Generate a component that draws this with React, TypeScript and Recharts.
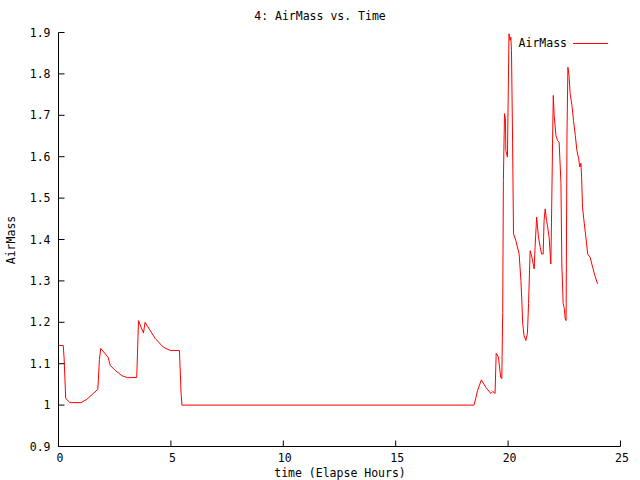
import { LineChart, Line, XAxis, YAxis } from 'recharts';

// elapsed hours and the air mass read at each time
const times = [
  0, 0.21, 0.25, 0.32, 0.51, 1.0, 1.26, 1.75, 1.82, 1.88, 2.21, 2.3, 2.52, 2.82, 3.08, 3.48,
  3.56, 3.78, 3.85, 4.3, 4.66, 4.97, 5.38, 5.45, 5.49, 18.48, 18.56, 18.64, 18.81, 19.01,
  19.23, 19.32, 19.42, 19.47, 19.57, 19.67, 19.72, 19.76, 19.79, 19.84, 19.88, 19.9, 19.97,
  20.04, 20.09, 20.12, 20.15, 20.2, 20.24, 20.34, 20.49, 20.57, 20.61, 20.65, 20.71, 20.79,
  20.86, 20.91, 20.98, 21.06, 21.16, 21.2, 21.27, 21.31, 21.35, 21.43, 21.49, 21.56, 21.6,
  21.65, 21.71, 21.76, 21.83, 21.9, 21.93, 21.98, 22.01, 22.05, 22.13, 22.2, 22.27, 22.35,
  22.39, 22.45, 22.5, 22.54, 22.58, 22.62, 22.66, 22.71, 22.76, 22.84, 22.91, 22.99, 23.06,
  23.14, 23.19, 23.24, 23.27, 23.31, 23.39, 23.46, 23.54, 23.65, 23.76, 23.86, 23.98,
];
const airMass = [
  1.144, 1.144, 1.113, 1.016, 1.006, 1.006, 1.014, 1.038, 1.11, 1.137, 1.115, 1.096, 1.084,
  1.071, 1.066, 1.067, 1.204, 1.174, 1.2, 1.161, 1.14, 1.132, 1.132, 1.031, 1.0, 1.0, 1.016,
  1.035, 1.061, 1.043, 1.028, 1.033, 1.028, 1.125, 1.116, 1.067, 1.064, 1.224, 1.543, 1.704,
  1.692, 1.615, 1.599, 1.897, 1.881, 1.889, 1.857, 1.635, 1.414, 1.398, 1.365, 1.301, 1.253,
  1.196, 1.168, 1.156, 1.173, 1.245, 1.373, 1.357, 1.329, 1.381, 1.454, 1.43, 1.406, 1.381,
  1.365, 1.365, 1.446, 1.474, 1.446, 1.43, 1.402, 1.341, 1.442, 1.643, 1.748, 1.7, 1.651,
  1.639, 1.635, 1.538, 1.341, 1.245, 1.233, 1.208, 1.204, 1.655, 1.816, 1.796, 1.752, 1.724,
  1.687, 1.651, 1.615, 1.595, 1.575, 1.584, 1.55, 1.478, 1.438, 1.406, 1.365, 1.357, 1.333,
  1.313, 1.293,
];

const xTicks = [0, 5, 10, 15, 20, 25];
const yTicks = [0.9, 1, 1.1, 1.2, 1.3, 1.4, 1.5, 1.6, 1.7, 1.8, 1.9];
const yLabels = ['0.9', '1', '1.1', '1.2', '1.3', '1.4', '1.5', '1.6', '1.7', '1.8', '1.9'];

const rows = times.map((t, i) => ({ t, am: airMass[i] }));

const font = '"DejaVu Sans Mono", monospace';
const fs = 11.5;

const BottomTick = ({ x, y, payload }: any) => (
  <g>
    <line x1={x} y1={y} x2={x} y2={y - 6} stroke="#000" />
    <text x={x + 1.5} y={y + 15} textAnchor="middle" fontFamily={font} fontSize={fs} fill="#000">
      {payload.value}
    </text>
  </g>
);
const TopTick = ({ x, y }: any) => <line x1={x} y1={y} x2={x} y2={y + 6} stroke="#000" />;
const LeftTick = ({ x, y, payload }: any) => (
  <g>
    <line x1={x} y1={y} x2={x + 6} y2={y} stroke="#000" />
    <text x={x - 8} y={y + 4} textAnchor="end" fontFamily={font} fontSize={fs} fill="#000">
      {yLabels[yTicks.indexOf(payload.value)] ?? payload.value}
    </text>
  </g>
);
const RightTick = ({ x, y }: any) => <line x1={x} y1={y} x2={x - 6} y2={y} stroke="#000" />;

const txt = { position: 'absolute' as const, fontFamily: font, fontSize: fs, lineHeight: '16px', color: '#000' };

export default function App() {
  return (
    <div style={{ position: 'absolute', left: 0, top: 0, width: 640, height: 480, background: '#fff' }}>
      <LineChart width={640} height={480} data={rows} margin={{ top: 32.5, right: 19.5, bottom: 0, left: 0 }} style={{ position: 'absolute', left: 0, top: 0 }}>
        <XAxis xAxisId="b" type="number" dataKey="t" domain={[0, 25]} ticks={xTicks} orientation="bottom" height={33.5}
          tickSize={0} tickMargin={0} tickLine={false} tick={<BottomTick />} axisLine={{ stroke: '#000' }} interval={0} />
        <XAxis xAxisId="t" type="number" dataKey="t" domain={[0, 25]} ticks={xTicks} orientation="top" height={0}
          tickSize={0} tickMargin={0} tickLine={false} tick={<TopTick />} axisLine={{ stroke: '#000' }} interval={0} />
        <YAxis yAxisId="l" type="number" domain={[0.9, 1.9]} ticks={yTicks} width={58.5}
          tickSize={0} tickMargin={0} tickLine={false} tick={<LeftTick />} axisLine={{ stroke: '#000' }} interval={0} />
        <YAxis yAxisId="r" type="number" orientation="right" domain={[0.9, 1.9]} ticks={yTicks} width={0}
          tickSize={0} tickMargin={0} tickLine={false} tick={<RightTick />} axisLine={{ stroke: '#000' }} interval={0} />
        <Line xAxisId="b" yAxisId="l" type="linear" dataKey="am" name="AirMass" stroke="#ff0000" strokeWidth={1}
          dot={false} activeDot={false} isAnimationActive={false} />
      </LineChart>
      <div style={{ ...txt, left: 0, width: 640, top: 8, textAlign: 'center' }}>4: AirMass vs. Time</div>
      <div style={{ ...txt, left: 240, width: 200, top: 465, textAlign: 'center' }}>time (Elapse Hours)</div>
      <div style={{ ...txt, left: 11 - 50, top: 240 - 8, width: 100, textAlign: 'center', transform: 'rotate(-90deg)' }}>AirMass</div>
      <div style={{ ...txt, left: 467, width: 100, top: 35, textAlign: 'right' }}>AirMass</div>
      <div style={{ position: 'absolute', left: 573, top: 43, width: 35, height: 1, background: '#ff0000' }} />
    </div>
  );
}
